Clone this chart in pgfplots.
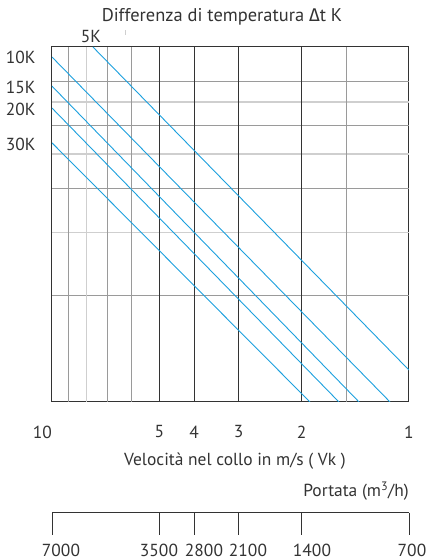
\documentclass[border=0pt]{standalone}
\usepackage{pgfplots}
\pgfplotsset{compat=1.18}
\usepackage{fontspec}
\setmainfont{PT Sans}
\newfontfamily\grk{Fira Sans}

\definecolor{txt}{HTML}{333333}
\definecolor{frame}{HTML}{333333}
\definecolor{gmid}{HTML}{9A9A9A}
\definecolor{glight}{HTML}{CFCFCF}
\definecolor{blu}{HTML}{1CA0DE}

\begin{document}
\begin{tikzpicture}[font=\fontsize{17.5}{20}\selectfont,text=txt]
\path[use as bounding box] (0,0) rectangle (427bp,560bp);

\begin{axis}[
    at={(52bp,158bp)}, anchor=south west,
    scale only axis, width=357bp, height=355bp,
    xmode=log, ymode=log, x dir=reverse,
    xmin=1, xmax=10, ymin=1, ymax=10,
    xtick={10,5,4,3,2,1}, xticklabels={\llap{10},5,4,3,2,1},
    ytick=\empty, xminorticks=false, yminorticks=false,
    major tick length=0pt,
    xticklabel style={anchor=center, yshift=-30bp, text=txt,
        font=\fontsize{17.5}{20}\selectfont},
    axis line style={draw=frame, line width=1bp},
]
% grid
\pgfplotsinvokeforeach{2,4,6,8}{\draw[gmid, line width=0.8bp] (1,#1) -- (10,#1);}
\pgfplotsinvokeforeach{3,5,7}{\draw[glight, line width=1.4bp] (1,#1) -- (10,#1);}
\pgfplotsinvokeforeach{9,7,6,1.5}{\draw[gmid, line width=0.8bp] (#1,1) -- (#1,10);}
\draw[glight, line width=1.4bp] (8,1) -- (8,10);
\pgfplotsinvokeforeach{5,4,3,2}{\draw[frame, line width=1bp] (#1,1) -- (#1,10);}

% Delta t lines
\addplot[blu, line width=0.9bp] coordinates {(7.68,10) (1,1.23)};    % 5K
\addplot[blu, line width=0.9bp] coordinates {(10,9.37) (1.130,1)};   % 10K
\addplot[blu, line width=0.9bp] coordinates {(10,7.76) (1.380,1)};   % 15K
\addplot[blu, line width=0.9bp] coordinates {(10,6.73) (1.571,1)};   % 20K
\addplot[blu, line width=0.9bp] coordinates {(10,5.37) (1.894,1)};   % 30K
\end{axis}

\begin{scope}[x=1bp,y=1bp]
% labels
\node[font=\fontsize{18.5}{20}\selectfont] at (222,543) {Differenza di temperatura {\grk Δ}t K};
\node at (91,523) {5K};
\draw[glight, line width=0.8bp] (125,525) -- (125,530);
\node[anchor=east] at (39,503) {10K};
\node[anchor=east] at (39,473) {15K};
\node[anchor=east] at (39,451) {20K};
\node[anchor=east] at (39,416) {30K};

\node at (235,99) {Velocità nel collo in m/s ( Vk )};
\node[anchor=east, inner sep=0pt] at (409,69) {Portata (m\textsuperscript{3}/h)};

% portata scale
\draw[frame, line width=1bp] (52,47) -- (409,47);
\foreach \x in {52,159.5,194.1,238.7,301.5,409}
  \draw[frame, line width=1bp] (\x,47) -- (\x,25);
\foreach \x/\l in {61/7000,159/3500,204/2800,248/2100,312/1400,412/700}
  \node[anchor=base, inner sep=0pt] at (\x,4) {\l};
\end{scope}
\end{tikzpicture}
\end{document}
